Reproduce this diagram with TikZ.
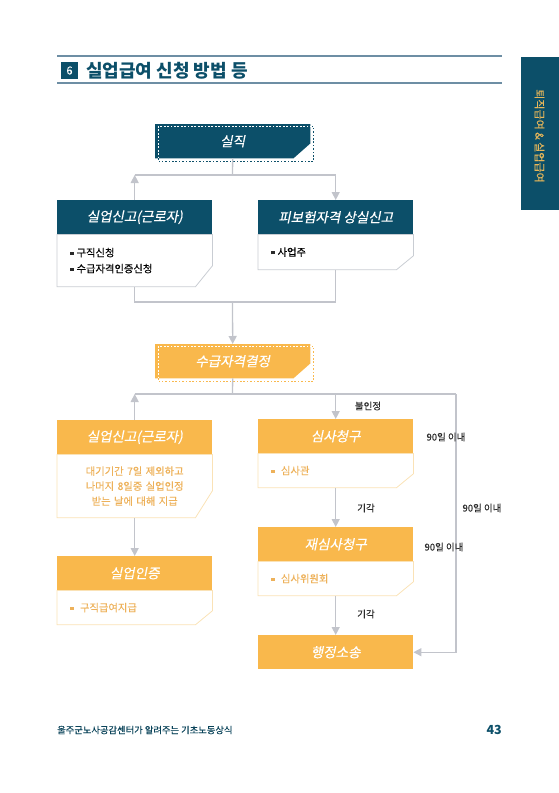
\documentclass[tikz,border=0pt]{standalone}
\usepackage{fontspec}
\setmainfont{Noto Sans CJK KR}
\newfontfamily\krit[FakeSlant=0.2,FakeBold=0.4]{Noto Sans CJK KR}
\newfontfamily\krmed[FakeBold=0.25]{Noto Sans CJK KR}
\usetikzlibrary{arrows.meta,calc,backgrounds}
\definecolor{deepteal}{HTML}{0C4F69}
\definecolor{orng}{HTML}{F9B84C}
\definecolor{orngtext}{HTML}{EDB15A}
\definecolor{orngline}{HTML}{FAE2B6}
\definecolor{boxline}{HTML}{C9CDD3}
\definecolor{connc}{HTML}{C2C4CB}
\definecolor{ruleblue}{HTML}{6D8EA4}
\definecolor{tabgold}{HTML}{E6B65A}
\definecolor{bodytext}{HTML}{2A2A2A}
\newcommand\bul[1][bodytext]{{\color{#1}\rule[0.15em]{3.4pt}{3.4pt}}\hspace{3pt}}
\tikzset{
  hdr/.style={minimum width=155, minimum height=34, inner sep=0, anchor=north west,
    text=white, font=\krit\fontsize{13.5}{15}\selectfont},
  hdrT/.style={hdr, fill=deepteal},
  hdrO/.style={hdr, fill=orng},
  bodybox/.style={minimum width=155, inner xsep=13, inner ysep=0, text width=129,
    anchor=north west, font=\krmed\fontsize{10.3}{16}\selectfont},
  conn/.style={draw=connc, line width=1.3pt},
  arr/.style={conn, -{Triangle[width=8pt,length=8pt]}},
  lbl/.style={font=\krmed\fontsize{9.5}{10}\selectfont, text=bodytext, inner sep=0},
  titleline/.style={draw=ruleblue, line width=1.4pt}
}
\begin{document}
\begin{tikzpicture}[x=1pt,y=-1pt]
\useasboundingbox (0,0) rectangle (559,793);
% page header
\draw[titleline] (57,56) -- (502,56);
\draw[titleline] (57,83) -- (502,83);
\node[fill=deepteal, text=white, minimum size=17, inner sep=0,
  font=\krmed\fontsize{11}{12}\selectfont] (num) at (69.5,70.5) {6};
\node[anchor=west, inner sep=0, text=deepteal,
  font=\bfseries\fontsize{18}{19}\selectfont] (title) at (86,70.5) {실업급여 신청 방법 등};
\node[fill=deepteal, minimum width=38, minimum height=153, inner sep=0, anchor=north west] (tab) at (521,57) {};
\node[rotate=-90, text=tabgold, inner sep=0, font=\krmed\fontsize{11}{12}\selectfont] (tabtxt) at (539.5,136) {퇴직급여 \& 실업급여};
% footer
\node[anchor=west, inner sep=0, text=deepteal!85!black, font=\krmed\fontsize{9.3}{10}\selectfont] (foot) at (57,730) {울주군노사공감센터가 알려주는 기초노동상식};
\node[anchor=east, inner sep=0, text=deepteal, font=\bfseries\fontsize{12.5}{13}\selectfont] (pg) at (502,730) {43};

% top box
\node[hdr] (sil) at (155,124) {실직};
\begin{scope}[on background layer]
\fill[deepteal] (sil.north west) -- (sil.north east) -- ($(sil.south east)+(0,-15)$) -- ($(sil.south east)+(-17,0)$) -- (sil.south west) -- cycle;
\end{scope}
\draw[deepteal, line width=1pt, dash pattern=on 1.8pt off 1.6pt, dash phase=1.7pt] ($(sil.north west)+(3,2)$) rectangle ($(sil.south east)+(3,3)$);
\draw[white, line width=1pt, dash pattern=on 1.8pt off 1.6pt] ($(sil.north west)+(3,2)$) rectangle ($(sil.south east)+(3,3)$);

% second row
\node[hdrT] (h1) at (57,200) {실업신고(근로자)};
\node[bodybox, minimum height=52, align=left] (b1) at (h1.south west) {\bul 구직신청\\\bul 수급자격인증신청};
\draw[boxline, line width=0.8pt] (b1.north west) -- (b1.north east) -- ($(b1.south east)+(0,-21)$) -- ($(b1.south east)+(-17,0)$) -- (b1.south west) -- cycle;

\node[hdrT] (h2) at (258,200) {피보험자격 상실신고};
\node[bodybox, minimum height=35, align=left] (b2) at (h2.south west) {\bul 사업주};
\draw[boxline, line width=0.8pt] (b2.north west) -- (b2.north east) -- ($(b2.south east)+(0,-14)$) -- ($(b2.south east)+(-17,0)$) -- (b2.south west) -- cycle;

% decision box
\node[hdr] (sug) at (155,344) {수급자격결정};
\begin{scope}[on background layer]
\fill[orng] (sug.north west) -- (sug.north east) -- ($(sug.south east)+(0,-15)$) -- ($(sug.south east)+(-17,0)$) -- (sug.south west) -- cycle;
\end{scope}
\draw[orng, line width=1pt, dash pattern=on 1.8pt off 1.6pt, dash phase=1.7pt] ($(sug.north west)+(3,2)$) rectangle ($(sug.south east)+(3,3)$);
\draw[white, line width=1pt, dash pattern=on 1.8pt off 1.6pt] ($(sug.north west)+(3,2)$) rectangle ($(sug.south east)+(3,3)$);

% left column (orange)
\node[hdrO] (o1h) at (57,420) {실업신고(근로자)};
\node[bodybox, minimum height=63, align=center, text=orngtext, font=\krmed\fontsize{10.3}{15}\selectfont] (o1b) at (o1h.south west) {대기기간 7일 제외하고\\나머지 8일중 실업인정\\받는 날에 대해 지급};
\draw[orngline, line width=0.8pt] (o1b.north west) -- (o1b.north east) -- ($(o1b.south east)+(0,-27)$) -- ($(o1b.south east)+(-17,0)$) -- (o1b.south west) -- cycle;

\node[hdrO] (o2h) at (57,556) {실업인증};
\node[bodybox, minimum height=34, align=left, text=orngtext] (o2b) at (o2h.south west) {\bul[orngtext] 구직급여지급};
\draw[orngline, line width=0.8pt] (o2b.north west) -- (o2b.north east) -- ($(o2b.south east)+(0,-14)$) -- ($(o2b.south east)+(-17,0)$) -- (o2b.south west) -- cycle;

% right column (orange)
\node[hdrO] (s1h) at (258,419) {심사청구};
\node[bodybox, minimum height=34, align=left, text=orngtext] (s1b) at (s1h.south west) {\bul[orngtext] 심사관};
\draw[orngline, line width=0.8pt] (s1b.north west) -- (s1b.north east) -- ($(s1b.south east)+(0,-14)$) -- ($(s1b.south east)+(-17,0)$) -- (s1b.south west) -- cycle;

\node[hdrO] (s2h) at (258,527) {재심사청구};
\node[bodybox, minimum height=34, align=left, text=orngtext] (s2b) at (s2h.south west) {\bul[orngtext] 심사위원회};
\draw[orngline, line width=0.8pt] (s2b.north west) -- (s2b.north east) -- ($(s2b.south east)+(0,-14)$) -- ($(s2b.south east)+(-17,0)$) -- (s2b.south west) -- cycle;

\node[hdrO] (sog) at (258,635) {행정소송};

% connectors
\coordinate (j1) at (232.5,175);
\coordinate (j2) at (232.5,302);
\coordinate (j3) at (232.5,394);
\coordinate (c1) at (456,394);
\draw[conn] (sil.south) -- (j1);
\draw[arr] (h1.north) -- (h1.north |- j1);
\draw[conn] (h1.north |- j1) -- (h2.north |- j1);
\draw[arr] (h2.north |- j1) -- (h2.north);
\draw[conn] (b1.south) -- (b1.south |- j2) -- (b2.south |- j2) -- (b2.south);
\draw[arr] (j2) -- (sug.north);
\draw[conn] (sug.south) -- (j3);
\draw[arr] (o1h.north) -- (o1h.north |- j3);
\draw[conn] (o1h.north |- j3) -- (c1);
\draw[arr] (s1h.north |- j3) -- (s1h.north);
\draw[arr] (c1) |- (sog.east);
\draw[arr] (o1b.south) -- (o2h.north);
\draw[arr] (s1b.south) -- (s2h.north);
\draw[arr] (s2b.south) -- (sog.north);

% labels
\node[lbl] (l1) at (368,406) {불인정};
\node[lbl] (l2) at (446,437) {90일 이내};
\node[lbl] (l3) at (366,508) {기각};
\node[lbl] (l4) at (482,508) {90일 이내};
\node[lbl] (l5) at (444,547) {90일 이내};
\node[lbl] (l6) at (366,614) {기각};
\end{tikzpicture}
\end{document}
